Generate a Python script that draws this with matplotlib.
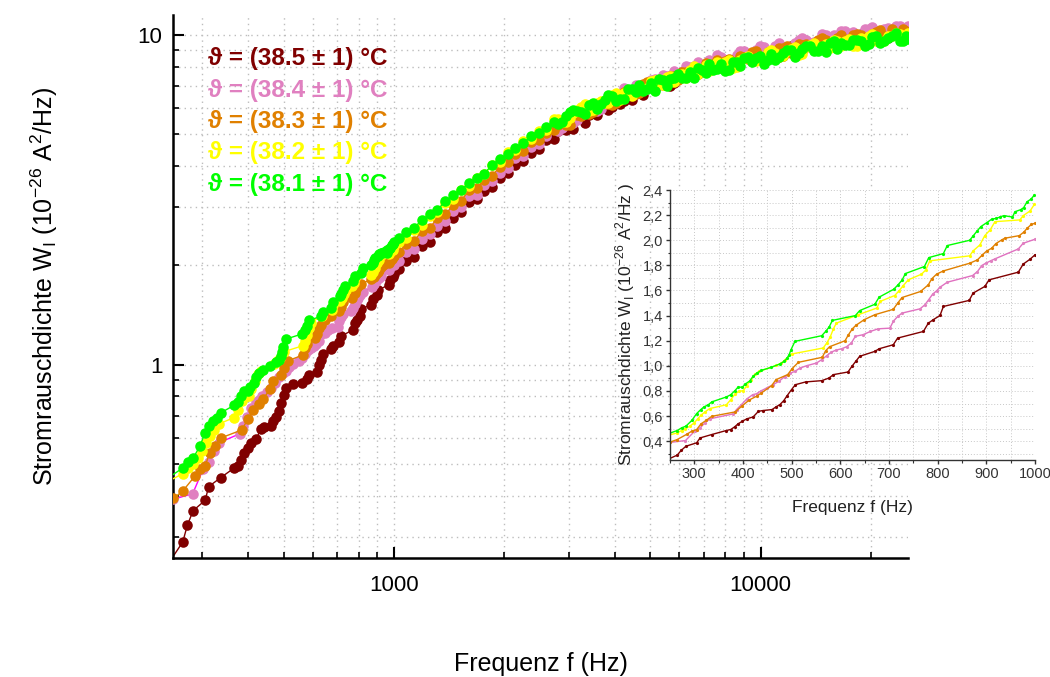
import matplotlib
matplotlib.use("Agg")
import matplotlib.pyplot as plt
from matplotlib.ticker import FixedLocator, NullFormatter, FuncFormatter, MultipleLocator

plt.rcParams['font.family'] = ['Liberation Sans', 'DejaVu Sans']
plt.rcParams['mathtext.fontset'] = 'custom'
plt.rcParams['mathtext.rm'] = 'Liberation Sans'

# ---------------- data ----------------
series_labels = ["ϑ = (38.5 ± 1) °C", "ϑ = (38.4 ± 1) °C", "ϑ = (38.3 ± 1) °C",
                 "ϑ = (38.2 ± 1) °C", "ϑ = (38.1 ± 1) °C"]
marker_colors = ["#800000", "#E080C0", "#E08000", "#FFFF00", "#00FF00"]
main_line_colors = ["#800000", "#FF00FF", "#E08000", "#FFFF00", "#00FF00"]
inset_line_colors = ["#800000", "#E070C0", "#E08000", "#FFFF00", "#00FF00"]

# low-frequency part (250 - 1000 Hz)
f_red_low = [240, 265, 273, 283, 305, 312, 336, 366, 375, 383,
             390, 399, 408, 421, 432, 441, 460, 468, 476, 484,
             491, 500, 508, 529, 562, 577, 586, 616, 624, 632,
             640, 671, 680, 709, 718, 771, 781, 791, 805, 812,
             865, 873, 897, 906, 966, 976, 990, 1000]
w_red_low = [0.245, 0.289, 0.326, 0.36, 0.387, 0.426, 0.453, 0.485, 0.493, 0.514,
             0.538, 0.559, 0.578, 0.593, 0.638, 0.644, 0.652, 0.673, 0.691, 0.723,
             0.763, 0.811, 0.85, 0.872, 0.882, 0.903, 0.93, 0.951, 0.996, 1.036,
             1.076, 1.115, 1.136, 1.168, 1.221, 1.274, 1.34, 1.367, 1.401, 1.473,
             1.521, 1.579, 1.632, 1.685, 1.746, 1.81, 1.849, 1.883]

f_pink_low = [250, 282, 301, 312, 322, 332, 380, 387, 397, 408,
              420, 428, 437, 449, 462, 474, 486, 496, 507, 517,
              531, 551, 562, 572, 582, 592, 603, 613, 623, 631,
              647, 662, 678, 702, 709, 718, 727, 764, 774, 782,
              790, 798, 805, 820, 872, 882, 891, 899, 909, 918,
              966, 976, 1000]
w_pink_low = [0.39, 0.405, 0.48, 0.506, 0.546, 0.578, 0.617, 0.652, 0.691, 0.736,
              0.77, 0.778, 0.80, 0.824, 0.85, 0.877, 0.914, 0.94, 0.956, 0.982,
              1.001, 1.022, 1.049, 1.08, 1.11, 1.126, 1.136, 1.152, 1.182, 1.235,
              1.248, 1.274, 1.295, 1.30, 1.354, 1.393, 1.42, 1.454, 1.486, 1.528,
              1.571, 1.597, 1.626, 1.666, 1.719, 1.751, 1.799, 1.817, 1.836, 1.852,
              1.931, 1.976, 2.008]

f_orange_low = [250, 265, 286, 295, 305, 314, 325, 336, 384,
                399, 413, 428, 438, 459, 468, 492, 501, 514, 563,
                570, 578, 610, 616, 625, 632, 649, 671, 709, 718,
                727, 765, 781, 788, 798, 812, 866, 882, 892, 901,
                911, 920, 932, 938, 968, 977, 984, 993, 1000]
w_orange_low = [0.392, 0.413, 0.458, 0.48, 0.493, 0.538, 0.567, 0.598, 0.633,
                0.683, 0.728, 0.758, 0.784, 0.842, 0.89, 0.93, 0.977, 1.028, 1.068,
                1.12, 1.152, 1.2, 1.242, 1.295, 1.322, 1.367, 1.407, 1.45, 1.499,
                1.544, 1.592, 1.645, 1.693, 1.73, 1.756, 1.817, 1.844, 1.883, 1.915,
                1.936, 1.974, 2.003, 2.016, 2.037, 2.064, 2.095, 2.127, 2.135]

f_yellow_low = [240, 265, 274, 282, 291, 300, 307, 314, 322, 332,
                366, 375, 384, 392, 401, 408, 416, 425, 434, 469,
                479, 487, 500, 565, 572, 579, 586, 592, 637, 675,
                682, 712, 721, 729, 740, 767, 776, 784, 866, 873,
                887, 897, 908, 918, 969, 976, 990, 999]
w_yellow_low = [0.44, 0.466, 0.485, 0.498, 0.52, 0.546, 0.578, 0.607, 0.633, 0.66,
                0.69, 0.73, 0.776, 0.797, 0.803, 0.842, 0.89, 0.935, 0.956, 1.004,
                1.022, 1.05, 1.094, 1.142, 1.18, 1.226, 1.295, 1.34, 1.407, 1.46,
                1.513, 1.56, 1.598, 1.637, 1.685, 1.73, 1.764, 1.836, 1.876, 1.915,
                1.963, 2.037, 2.082, 2.148, 2.162, 2.196, 2.233, 2.286]

f_green_low = [240, 265, 274, 283, 295, 305, 313, 320, 329, 336,
               366, 375, 383, 390, 399, 405, 414, 421, 429, 438,
               458, 476, 485, 491, 495, 499, 507, 562, 570, 577, 584,
               631, 640, 671, 680, 710, 718, 727, 734, 773, 782,
               812, 820, 866, 873, 882, 889, 901, 911, 921, 928,
               936, 954, 959, 971, 977, 984, 992, 999]
w_green_low = [0.45, 0.485, 0.506, 0.52, 0.565, 0.62, 0.65, 0.673, 0.69, 0.713,
               0.752, 0.77, 0.80, 0.83, 0.83, 0.855, 0.88, 0.916, 0.943, 0.964,
               0.988, 1.015, 1.036, 1.062, 1.089, 1.13, 1.195, 1.24, 1.274, 1.308, 1.362,
               1.40, 1.44, 1.49, 1.547, 1.61, 1.642, 1.682, 1.735, 1.791, 1.862,
               1.894, 1.958, 2.0, 2.034, 2.077, 2.109, 2.14, 2.167, 2.175, 2.185,
               2.196, 2.185, 2.227, 2.244, 2.26, 2.307, 2.328, 2.36]

# high-frequency part (1 kHz - 25 kHz), shared frequency grid
f_high = [1030, 1080, 1130, 1190, 1250, 1310, 1380, 1450, 1520, 1600,
          1680, 1760, 1850, 1940, 2040, 2140, 2250, 2360, 2480, 2600,
          2730, 2870, 3010, 3160, 3320, 3490, 3660, 3840, 4030, 4240,
          4450, 4670, 4900, 5150, 5400, 5670, 5960, 6260, 6570, 6900,
          7240, 7600, 7980, 8380, 8800, 9240, 9700, 10190, 10700, 11230,
          11790, 12380, 13000, 13650, 14340, 15050, 15800, 16590, 17420, 18300,
          19210, 20170, 21180, 22240, 23350, 24520, 25200]
w_red_high = [1.95, 2.07, 2.12, 2.29, 2.36, 2.52, 2.60, 2.79, 2.90, 3.12,
              3.18, 3.36, 3.47, 3.70, 3.82, 4.05, 4.15, 4.40, 4.52, 4.80,
              4.84, 5.22, 5.23, 5.61, 5.43, 5.83, 6.05, 5.94, 6.46, 6.34,
              6.35, 6.83, 6.95, 6.88, 7.37, 7.01, 7.58, 7.78, 7.66, 8.09,
              7.83, 8.01, 8.42, 8.06, 8.57, 8.59, 8.44, 8.95, 8.68, 8.60,
              9.14, 9.41, 8.98, 9.35, 9.07, 9.61, 9.63, 9.42, 9.98, 9.64,
              9.46, 10.09, 10.05, 9.81, 10.37, 10.02, 10.50]
w_pink_high = [2.07, 2.19, 2.25, 2.41, 2.49, 2.64, 2.72, 2.92, 3.00, 3.24,
               3.28, 3.51, 3.60, 3.83, 3.96, 4.24, 4.31, 4.58, 4.68, 4.94,
               5.20, 5.23, 5.61, 5.52, 5.84, 6.17, 5.97, 6.42, 6.41, 6.90,
               6.65, 7.01, 6.88, 7.38, 7.59, 7.48, 7.58, 8.09, 8.08, 7.88,
               8.43, 8.70, 8.37, 8.43, 8.95, 8.57, 9.04, 9.21, 8.94, 9.50,
               9.22, 9.49, 9.85, 9.48, 9.48, 10.04, 10.05, 10.34, 10.01, 9.97,
               10.43, 10.58, 10.13, 10.50, 10.67, 10.41, 10.66]
w_orange_high = [2.19, 2.32, 2.37, 2.54, 2.60, 2.78, 2.86, 3.05, 3.14, 3.38,
                 3.43, 3.64, 3.75, 3.98, 4.11, 4.36, 4.45, 4.73, 4.82, 5.06,
                 5.16, 5.48, 5.34, 5.74, 5.98, 5.87, 6.27, 6.19, 6.22, 6.73,
                 6.76, 6.70, 7.23, 7.03, 7.09, 7.52, 7.31, 7.74, 8.04, 7.85,
                 7.87, 8.42, 8.33, 8.10, 8.66, 8.49, 8.95, 8.60, 8.77, 9.14,
                 9.31, 8.90, 9.38, 9.21, 9.68, 9.66, 9.38, 10.05, 9.73, 10.08,
                 9.74, 10.08, 10.35, 9.91, 10.07, 10.42, 10.15]
w_yellow_high = [2.36, 2.42, 2.57, 2.65, 2.83, 2.90, 3.10, 3.19, 3.40, 3.49,
                 3.70, 3.78, 4.03, 4.12, 4.41, 4.50, 4.78, 4.86, 5.12, 5.17,
                 5.56, 5.45, 5.62, 5.95, 6.20, 5.93, 6.30, 6.22, 6.66, 6.69,
                 6.55, 7.02, 6.93, 7.33, 7.09, 7.52, 7.58, 7.40, 8.05, 7.77,
                 7.79, 8.29, 8.29, 7.98, 8.40, 8.66, 8.35, 8.52, 9.04, 8.61,
                 8.96, 9.23, 8.80, 9.35, 9.17, 9.42, 9.67, 9.28, 9.73, 9.31,
                 9.76, 10.09, 9.56, 9.92, 10.18, 9.83, 10.16]
w_green_high = [2.43, 2.52, 2.60, 2.74, 2.86, 2.95, 3.13, 3.27, 3.38, 3.56,
                3.70, 3.80, 4.04, 4.20, 4.35, 4.56, 4.70, 4.93, 5.05, 5.25,
                5.45, 5.45, 5.85, 5.89, 5.78, 6.23, 6.18, 6.60, 6.34, 6.40,
                6.85, 7.05, 6.88, 6.78, 7.30, 7.37, 7.65, 7.40, 7.43, 7.85,
                8.18, 7.89, 7.81, 8.31, 8.08, 8.58, 8.52, 8.18, 8.77, 8.61,
                9.04, 8.60, 9.07, 9.26, 8.99, 8.87, 9.58, 9.47, 9.36, 9.69,
                9.27, 9.89, 9.47, 9.82, 10.17, 9.63, 9.76]

# additional (interleaved) high-frequency readings above 2.7 kHz
f_high2 = [2800, 2940, 3085, 3240, 3405, 3575, 3750, 3935, 4135, 4345,
           4560, 4785, 5025, 5275, 5535, 5815, 6110, 6415, 6735, 7070,
           7420, 7790, 8180, 8590, 9020, 9470, 9945, 10445, 10965, 11510,
           12085, 12690, 13325, 13995, 14695, 15425, 16195, 17005, 17860, 18755,
           19690, 20675, 21710, 22795, 23935, 24860]
w_red_high2 = [5.13, 5.15, 5.20, 5.64, 5.74, 5.73, 6.17, 6.07, 6.18, 6.67,
               6.69, 6.59, 7.09, 7.16, 7.16, 7.18, 7.72, 7.92, 7.64, 8.00,
               7.96, 8.29, 7.99, 8.44, 8.70, 8.38, 8.56, 8.90, 8.91, 8.65,
               9.28, 8.92, 9.30, 9.21, 9.57, 9.19, 9.67, 9.84, 9.52, 10.09,
               9.77, 10.02, 9.78, 10.24, 10.20, 10.10]
w_pink_high2 = [5.14, 5.47, 5.43, 5.88, 5.94, 5.89, 6.34, 6.32, 6.62, 6.58,
                7.07, 6.94, 7.31, 7.09, 7.54, 7.80, 7.63, 8.00, 8.30, 8.03,
                8.23, 8.58, 8.27, 8.73, 8.94, 8.80, 9.26, 8.89, 9.26, 9.17,
                9.07, 9.67, 9.71, 9.53, 10.10, 9.80, 9.80, 10.28, 10.24, 9.89,
                10.46, 10.20, 10.47, 10.22, 10.70, 10.43]
w_orange_high2 = [5.34, 5.33, 5.76, 5.69, 5.78, 6.19, 6.26, 6.14, 6.60, 6.68,
                  6.63, 7.10, 6.95, 7.31, 7.08, 7.53, 7.75, 7.66, 7.71, 8.22,
                  8.18, 7.96, 8.47, 8.34, 8.62, 8.89, 8.56, 8.91, 8.82, 9.18,
                  8.84, 9.42, 9.44, 9.26, 9.81, 9.52, 9.81, 9.60, 10.05, 10.01,
                  9.66, 10.22, 9.98, 10.44, 9.99, 10.34]
w_yellow_high2 = [5.59, 5.45, 5.81, 6.07, 5.91, 6.24, 6.23, 6.60, 6.35, 6.82,
                  6.88, 6.80, 7.27, 7.10, 7.45, 7.21, 7.64, 7.84, 7.64, 8.14,
                  7.92, 8.17, 8.43, 8.03, 8.53, 8.38, 8.39, 8.91, 8.83, 8.65,
                  9.09, 8.74, 9.21, 9.49, 9.20, 9.17, 9.62, 9.60, 9.28, 9.82,
                  9.97, 9.63, 9.59, 9.95, 10.10, 9.85]
w_green_high2 = [5.37, 5.68, 5.93, 5.84, 6.16, 5.99, 6.36, 6.54, 6.40, 6.86,
                 6.71, 6.76, 7.15, 7.39, 7.01, 7.44, 7.42, 7.76, 7.95, 7.66,
                 7.84, 8.17, 7.86, 8.28, 8.53, 8.30, 8.65, 8.39, 8.39, 8.83,
                 9.00, 8.84, 9.30, 8.94, 9.30, 9.46, 9.06, 9.32, 9.66, 9.63,
                 9.39, 9.92, 9.59, 9.95, 9.61, 9.94]

main_xticks = [1000, 10000]
main_xticklabels = ["1000", "10000"]
main_yticks = [1, 10]
main_yticklabels = ["1", "10"]
inset_xticks = [300, 400, 500, 600, 700, 800, 900, 1000]
inset_yticks = [0.4, 0.6, 0.8, 1.0, 1.2, 1.4, 1.6, 1.8, 2.0, 2.2, 2.4]

low_f = [f_red_low, f_pink_low, f_orange_low, f_yellow_low, f_green_low]
low_w = [w_red_low, w_pink_low, w_orange_low, w_yellow_low, w_green_low]
high_w = [w_red_high, w_pink_high, w_orange_high, w_yellow_high, w_green_high]
high_w2 = [w_red_high2, w_pink_high2, w_orange_high2, w_yellow_high2, w_green_high2]

# ---------------- figure ----------------
fig = plt.figure(figsize=(10.5, 6.77), dpi=100)
ax = fig.add_axes([0.1652, 0.1758, 0.700, 0.8015])
ax.set_xscale("log")
ax.set_yscale("log")

for i in range(5):
    pts = sorted(list(zip(low_f[i], low_w[i])) + list(zip(f_high, high_w[i]))
                 + list(zip(f_high2, high_w2[i])))
    fx = [p[0] for p in pts]
    wy = [p[1] for p in pts]
    ax.plot(fx, wy, color=main_line_colors[i], lw=1.0, zorder=2 + i)
    ax.plot(fx, wy, ls="none", marker="o", ms=7.6, mfc=marker_colors[i],
            mec=marker_colors[i], mew=0, zorder=2 + i)

ax.set_xlim(250, 25300)
ax.set_ylim(0.2585, 11.5)
ax.xaxis.set_major_locator(FixedLocator(main_xticks))
ax.set_xticklabels(main_xticklabels)
ax.yaxis.set_major_locator(FixedLocator(main_yticks))
ax.set_yticklabels(main_yticklabels)
ax.xaxis.set_minor_formatter(NullFormatter())
ax.yaxis.set_minor_formatter(NullFormatter())
ax.tick_params(which="major", direction="in", length=8, width=1.5, labelsize=16)
ax.tick_params(which="minor", direction="in", length=4.5, width=1.2)
ax.tick_params(axis="x", which="major", pad=12)
ax.tick_params(axis="y", which="major", pad=8)
for s in ["top", "right"]:
    ax.spines[s].set_visible(False)
for s in ["left", "bottom"]:
    ax.spines[s].set_linewidth(1.8)
ax.grid(True, which="both", color="#bdbdbd", linestyle=(0, (1, 3)), linewidth=1.0)
ax.set_axisbelow(True)

ax.set_xlabel("Frequenz f (Hz)", fontsize=18)
ax.xaxis.set_label_coords(0.5, -0.174)
ax.set_ylabel(r"Stromrauschdichte W$_\mathregular{I}$ (10$^\mathregular{-26}$ A$^\mathregular{2}$/Hz)",
              fontsize=18)
ax.yaxis.set_label_coords(-0.155, 0.5)

legend_y = [0.921, 0.862, 0.805, 0.747, 0.689]
for i in range(5):
    ax.text(0.047, legend_y[i], series_labels[i], transform=ax.transAxes,
            color=marker_colors[i], fontsize=17.5, fontweight="bold",
            ha="left", va="center", zorder=20)

# ---------------- inset ----------------
ins = fig.add_axes([0.638, 0.3205, 0.3476, 0.3988])
ins.set_facecolor("white")
for i in range(5):
    ins.plot(low_f[i], low_w[i], color=inset_line_colors[i], lw=1.0,
             marker="o", ms=2.3, mfc=marker_colors[i], mec=marker_colors[i], mew=0)
ins.set_xlim(250, 1000)
ins.set_ylim(0.25, 2.4)
ins.xaxis.set_major_locator(FixedLocator(inset_xticks))
ins.yaxis.set_major_locator(FixedLocator(inset_yticks))
ins.xaxis.set_minor_locator(MultipleLocator(50))
ins.yaxis.set_minor_locator(MultipleLocator(0.1))
ins.yaxis.set_major_formatter(FuncFormatter(lambda v, p: ("%.1f" % v).replace(".", ",")))
ins.tick_params(which="major", direction="out", length=3, width=1, labelsize=10.5,
                colors="#333333", pad=2)
ins.tick_params(which="minor", direction="out", length=1.8, width=0.8, colors="#333333")
for s in ["top", "right"]:
    ins.spines[s].set_visible(False)
for s in ["left", "bottom"]:
    ins.spines[s].set_color("#333333")
    ins.spines[s].set_linewidth(1.0)
ins.grid(True, which="both", color="#c8c8c8", linestyle=(0, (1, 2)), linewidth=0.7)
ins.set_axisbelow(True)
ins.set_xlabel("Frequenz f (Hz)", fontsize=12.5, color="#222222", labelpad=14)
ins.set_ylabel(r"Stromrauschdichte W$_\mathregular{I}$ (10$^\mathregular{-26}$ A$^\mathregular{2}$/Hz )",
               fontsize=12.5, color="#222222", labelpad=4)

fig.savefig("out.png", dpi=100)
